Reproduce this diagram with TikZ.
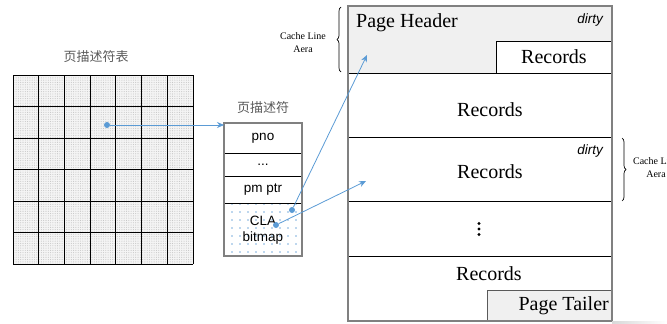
\documentclass[tikz,border=0pt]{standalone}
\usepackage{fontspec}
\setmainfont{Liberation Serif}
\setsansfont{Liberation Sans}
\newfontfamily\cjkfont{Noto Sans CJK SC}
\usetikzlibrary{arrows.meta,patterns.meta,decorations.pathreplacing}
\definecolor{linkblue}{HTML}{5B9BD5}
\definecolor{paneltint}{HTML}{F0F0F0}
\definecolor{framegray}{HTML}{808080}
\definecolor{titlegray}{HTML}{595959}

\tikzset{
  gridline/.style={black, line width=1pt},
  descrow/.style={rectangle, draw=black, line width=1pt, minimum width=78pt,
    inner sep=0pt, outer sep=0pt, font=\sffamily\fontsize{13.5}{15}\selectfont, align=center},
  pagerow/.style={rectangle, draw=black, line width=1pt, minimum width=264pt,
    inner sep=0pt, outer sep=0pt, font=\fontsize{20}{24}\selectfont},
  pagetext/.style={inner sep=0pt, font=\fontsize{20}{24}\selectfont},
  flagtext/.style={inner sep=0pt, font=\sffamily\itshape\fontsize{13.5}{15}\selectfont},
  cjktitle/.style={inner sep=0pt, text=titlegray, font=\cjkfont\fontsize{13}{15}\selectfont},
  cachenote/.style={inner sep=0pt, align=center, font=\fontsize{10}{13}\selectfont},
  frame/.style={draw=framegray, line width=1.5pt},
  link/.style={draw=linkblue, line width=0.8pt, -{Stealth[length=7pt,width=6pt]}},
  dotmark/.style={circle, fill=linkblue, inner sep=0pt, minimum size=6pt},
  bracemark/.style={decorate, decoration={brace, amplitude=4pt}, line width=0.7pt},
}

\begin{document}
\begin{tikzpicture}[x=1pt,y=-1pt]
\useasboundingbox (0,0) rectangle (667,324);

% ---- descriptor table: 7 x 6 dotted cells ----
\node[cjktitle] (tabletitle) at (96,57) {页描述符表};
\fill[gray!9] (13,75) rectangle (193,264);
\fill[pattern={Dots[distance=2.3pt,radius=0.55pt]}, pattern color=gray!45] (13,75) rectangle (193,264);
\foreach \c in {0,...,7} {
  \draw[gridline] ({13+\c*180/7},75) -- ({13+\c*180/7},264);
}
\foreach \r in {0,...,6} {
  \draw[gridline] (13,{75+\r*31.5}) -- (193,{75+\r*31.5});
}

% ---- one page descriptor ----
\node[cjktitle] (desctitle) at (263,108) {页描述符};
\node[descrow, minimum height=30pt, anchor=north west] (pno) at (224,123) {pno};
\node[descrow, minimum height=23pt, anchor=north] (more) at (pno.south) {...};
\node[descrow, minimum height=27pt, anchor=north] (pmptr) at (more.south) {pm ptr};
\node[descrow, minimum height=53pt, anchor=north,
      pattern={Dots[distance=8pt,radius=0.9pt]}, pattern color=linkblue!80] (cla) at (pmptr.south) {};
\node[inner sep=0pt, font=\sffamily\fontsize{13.5}{16.5}\selectfont, align=center] (clatext) at (263,230) {CLA\\bitmap};
\draw[frame] (pno.north west) rectangle (cla.south east);

% ---- the page with its cache line areas ----
\node[pagerow, minimum height=67pt, fill=paneltint, anchor=north west] (hdr) at (348,6) {};
\node[pagetext, anchor=west] (hdrlabel) at (356,23) {Page Header};
\node[flagtext, anchor=east] (hdrflag) at (603,20) {dirty};
\node[pagerow, minimum width=116pt, minimum height=32pt, fill=white, anchor=south east] (hdrrec) at (hdr.south east) {Records};

\node[pagerow, minimum height=64pt, anchor=north] (rowa) at (hdr.south) {};
\node[pagetext] (rowalabel) at (490,110) {Records};
\node[pagerow, minimum height=64pt, anchor=north] (rowb) at (rowa.south) {};
\node[pagetext] (rowblabel) at (490,172) {Records};
\node[flagtext, anchor=east] (rowbflag) at (603,151) {dirty};
\node[pagerow, minimum height=55pt, anchor=north] (gap) at (rowb.south) {};
\foreach \k/\yy in {1/223.5,2/229,3/234.5} {
  \fill[black] (479,\yy) circle (1.6pt);
}
\node[pagerow, minimum height=65pt, anchor=north] (tail) at (gap.south) {};
\node[pagetext] (taillabel) at (489,274) {Records};
\node[rectangle, draw=framegray!70!black, line width=1pt, fill=paneltint, outer sep=0pt,
      minimum width=125pt, minimum height=31pt, anchor=south east] (tailer) at (tail.south east) {};
\node[pagetext, anchor=east] (tailerlabel) at (609,306) {Page Tailer};
\draw[frame] (hdr.north west) rectangle (tail.south east);

% soft shade under the page corner
\shade[left color=gray!30, right color=white] (612,321) rectangle (667,324);

% ---- cache line braces ----
\coordinate (lbrtop) at (341,7);
\coordinate (lbrbot) at (341,72);
\draw[bracemark] (lbrbot) -- (lbrtop);
\node[cachenote] (lnote) at (303,43) {Cache Line\\Aera};
\coordinate (rbrtop) at (622,138);
\coordinate (rbrbot) at (622,201);
\draw[bracemark] (rbrtop) -- (rbrbot);
\node[cachenote] (rnote) at (656,168) {Cache Line\\Aera};

% ---- pointers ----
\node[dotmark] (cellptr) at (107,125) {};
\draw[link] (cellptr) -- (cellptr -| pno.west);
\node[dotmark] (bitA) at (292,210) {};
\node[dotmark] (bitB) at (276,225) {};
\coordinate (hdrhit) at (367,55);
\coordinate (rowhit) at (366,181);
\draw[link] (bitA) -- (hdrhit);
\draw[link] (bitB) -- (rowhit);
\end{tikzpicture}
\end{document}
